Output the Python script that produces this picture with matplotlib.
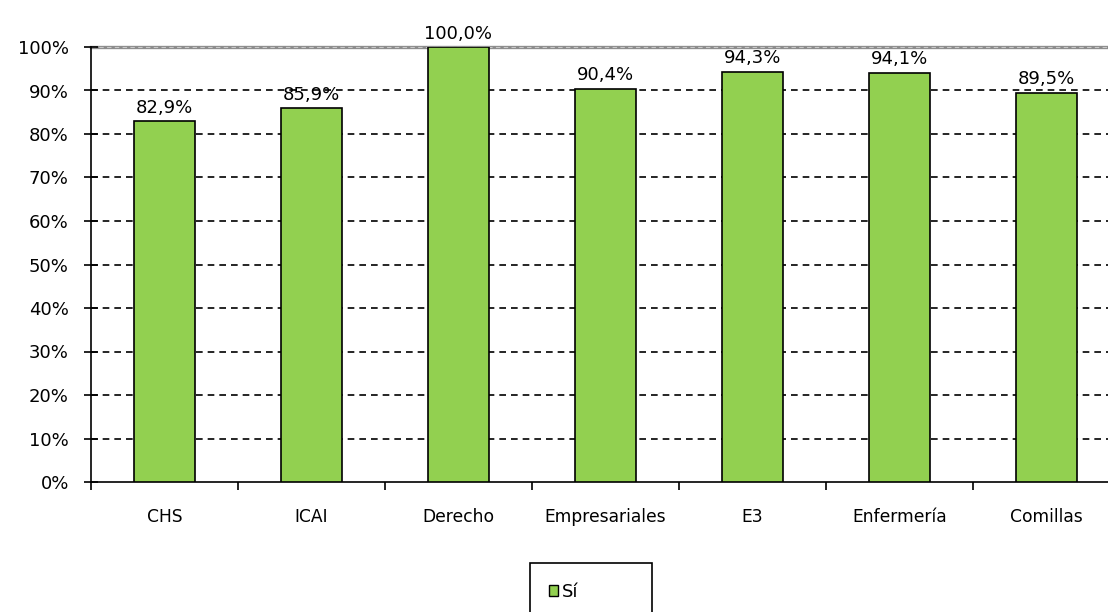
import matplotlib.pyplot as plt
import numpy as np
from matplotlib.patches import Patch, Rectangle

categorias = ["CHS", "ICAI", "Derecho", "Empresariales", "E3", "Enfermería", "Comillas"]
valores = [82.9, 85.9, 100.0, 90.4, 94.3, 94.1, 89.5]
etiquetas = ["82,9%", "85,9%", "100,0%", "90,4%", "94,3%", "94,1%", "89,5%"]

verde = "#92D050"

fig = plt.figure(figsize=(11.08, 6.12), dpi=100)
# el area del grafico sigue mas alla del borde derecho
ax = fig.add_axes([91 / 1108, 1 - 482 / 612, 1029 / 1108, 435 / 612])

x = np.arange(len(categorias))
ax.bar(x, valores, width=0.41, color=verde, edgecolor="black", linewidth=1.2, zorder=3)

for xi, v, t in zip(x, valores, etiquetas):
    ax.text(xi, v + 1.0, t, ha="center", va="bottom", fontsize=13)

ax.set_xlim(-0.5, len(categorias) - 0.5)
ax.set_ylim(0, 100)
ax.set_yticks(range(0, 101, 10))
ax.set_yticklabels([f"{t}%" for t in range(0, 101, 10)], fontsize=13)
for t in range(10, 100, 10):
    ax.axhline(t, color="black", linestyle=(0, (4, 3)), linewidth=1.2, zorder=1)
ax.axhline(100, color="#8c8c8c", linewidth=2.4, zorder=1, clip_on=False)
ax.axhline(100, color="#c8c8c8", linestyle=(0, (4, 3)), linewidth=0.8, zorder=1, clip_on=False)

# etiquetas x en el centro, ticks en los bordes
ax.set_xticks(np.arange(-0.5, len(categorias), 1.0))
ax.set_xticklabels([])
ax.set_xticks(x, minor=True)
ax.set_xticklabels(categorias, minor=True, fontsize=12.3)
ax.tick_params(axis="x", which="major", direction="out", length=6, width=1.2)
ax.tick_params(axis="x", which="minor", length=0, pad=19)
ax.tick_params(axis="y", direction="inout", length=10, width=1.2, pad=11)

ax.spines["top"].set_visible(False)
ax.spines["right"].set_visible(False)
ax.spines["left"].set_linewidth(1.2)
ax.spines["bottom"].set_linewidth(1.2)

# caja de la leyenda
fig.patches.append(Rectangle((530 / 1108, -0.05), 122 / 1108, 0.05 + 49 / 612,
                             transform=fig.transFigure, facecolor="white",
                             edgecolor="black", linewidth=1.2))
fig.legend(handles=[Patch(facecolor=verde, edgecolor="black", label="Sí")],
           loc="center", bbox_to_anchor=(564 / 1108, 1 - 592 / 612),
           fontsize=13, frameon=False,
           handlelength=0.5, handleheight=0.5, handletextpad=0.2,
           borderpad=0, borderaxespad=0)

fig.savefig("out.png", dpi=100)
